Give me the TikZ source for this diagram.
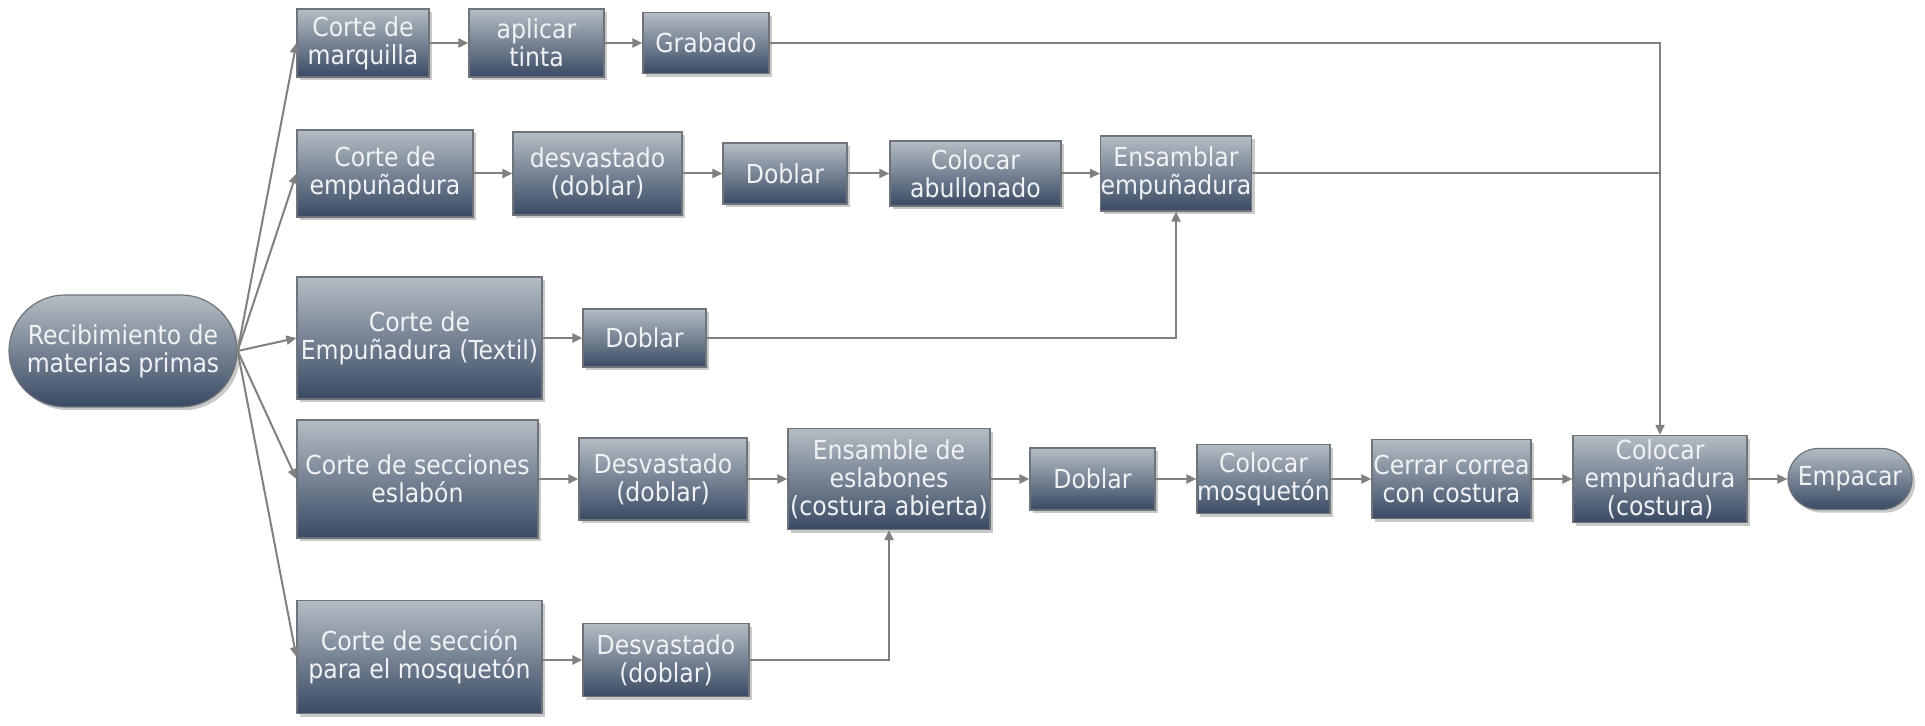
\documentclass[tikz,border=0pt]{standalone}
\usepackage{fontspec}
\setmainfont{DejaVu Sans Condensed}
\usetikzlibrary{arrows.meta,shadows}
\definecolor{boxtop}{RGB}{180,189,196}
\definecolor{boxmid}{RGB}{122,136,152}
\definecolor{boxbot}{RGB}{58,74,100}
\definecolor{boxedge}{RGB}{110,116,122}
\definecolor{linkgray}{RGB}{128,128,128}
\definecolor{txt}{RGB}{240,242,244}
\tikzset{
  stepbox/.style 2 args={draw=boxedge, line width=0.6pt,
    top color=boxtop, middle color=boxmid, bottom color=boxbot,
    text=txt, align=center, inner sep=0pt,
    font=\fontsize{13.1}{13.9}\selectfont,
    minimum width=#1*0.5pt, minimum height=#2*0.5pt,
    drop shadow={shadow xshift=1.6pt, shadow yshift=-1.6pt, opacity=0.3, fill=black!70}},
  pill/.style 2 args={stepbox={#1}{#2}, rounded corners=#2*0.25pt},
  link/.style={draw=linkgray, line width=1pt, -{Triangle[length=5pt,width=4.5pt]}},
  joint/.style={draw=linkgray, line width=1pt}
}
\begin{document}
\begin{tikzpicture}[x=0.5pt,y=-0.5pt]
\useasboundingbox (0,0) rectangle (1925,726);

% start
\node[pill={228}{112}] (rec) at (123,351) {Recibimiento de\\materias primas};

% row: marquilla
\node[stepbox={132}{68}] (m1) at (363,43) {Corte de\\marquilla};
\node[stepbox={135}{68}] (m2) at (536.5,43) {aplicar\\tinta};
\node[stepbox={126}{61}] (m3) at (706,43) {Grabado};

% row: empuñadura
\node[stepbox={176}{87}] (e1) at (385,173.5) {Corte de\\empuñadura};
\node[stepbox={169}{83}] (e2) at (597.5,173.5) {desvastado\\(doblar)};
\node[stepbox={124}{61}] (e3) at (785,173.5) {Doblar};
\node[stepbox={171}{65}] (e4) at (975.5,173.5) {Colocar\\abullonado};
\node[stepbox={150}{75}] (e5) at (1176,173.5) {Ensamblar\\empuñadura};

% row: textil
\node[stepbox={245}{122}] (t1) at (419.5,338) {Corte de\\Empuñadura (Textil)};
\node[stepbox={123}{58}] (t2) at (644.5,338) {Doblar};

% row: eslabón (main line)
\node[stepbox={241}{118}] (s1) at (417.5,479) {Corte de secciones\\eslabón};
\node[stepbox={168}{82}] (s2) at (663,479) {Desvastado\\(doblar)};
\node[stepbox={202}{101}] (s3) at (889,479) {Ensamble de\\eslabones\\(costura abierta)};
\node[stepbox={125}{62}] (s4) at (1092.5,479) {Doblar};
\node[stepbox={133}{69}] (s5) at (1263.5,479) {Colocar\\mosquetón};
\node[stepbox={159}{79}] (s6) at (1451.5,479) {Cerrar correa\\con costura};
\node[stepbox={174}{87}] (s7) at (1660,479) {Colocar\\empuñadura\\(costura)};
\node[pill={124}{61}] (s8) at (1850,479) {Empacar};

% row: mosquetón
\node[stepbox={245}{113}] (p1) at (419.5,657) {Corte de sección\\para el mosquetón};
\node[stepbox={166}{73}] (p2) at (666,660) {Desvastado\\(doblar)};

% fan-out from the start node
\foreach \t in {m1,e1,t1,s1,p1}
  \draw[link] (rec.east) -- (\t.west);

% sequences
\draw[link] (m1) -- (m2);
\draw[link] (m2) -- (m3);
\draw[link] (e1) -- (e2);
\draw[link] (e2) -- (e3);
\draw[link] (e3) -- (e4);
\draw[link] (e4) -- (e5);
\draw[link] (t1) -- (t2);
\draw[link] (s1) -- (s2);
\draw[link] (s2) -- (s3);
\draw[link] (s3) -- (s4);
\draw[link] (s4) -- (s5);
\draw[link] (s5) -- (s6);
\draw[link] (s6) -- (s7);
\draw[link] (s7) -- (s8);
\draw[link] (p1.east |- p2.west) -- (p2.west);

% merges
\draw[link] (t2.east) -| (e5.south);
\draw[link] (p2.east) -| (s3.south);
\draw[link] (m3.east) -| (s7.north);
\coordinate (jn) at (e5.east -| s7.north);
\draw[joint] (e5.east) -- (jn);
\end{tikzpicture}
\end{document}
